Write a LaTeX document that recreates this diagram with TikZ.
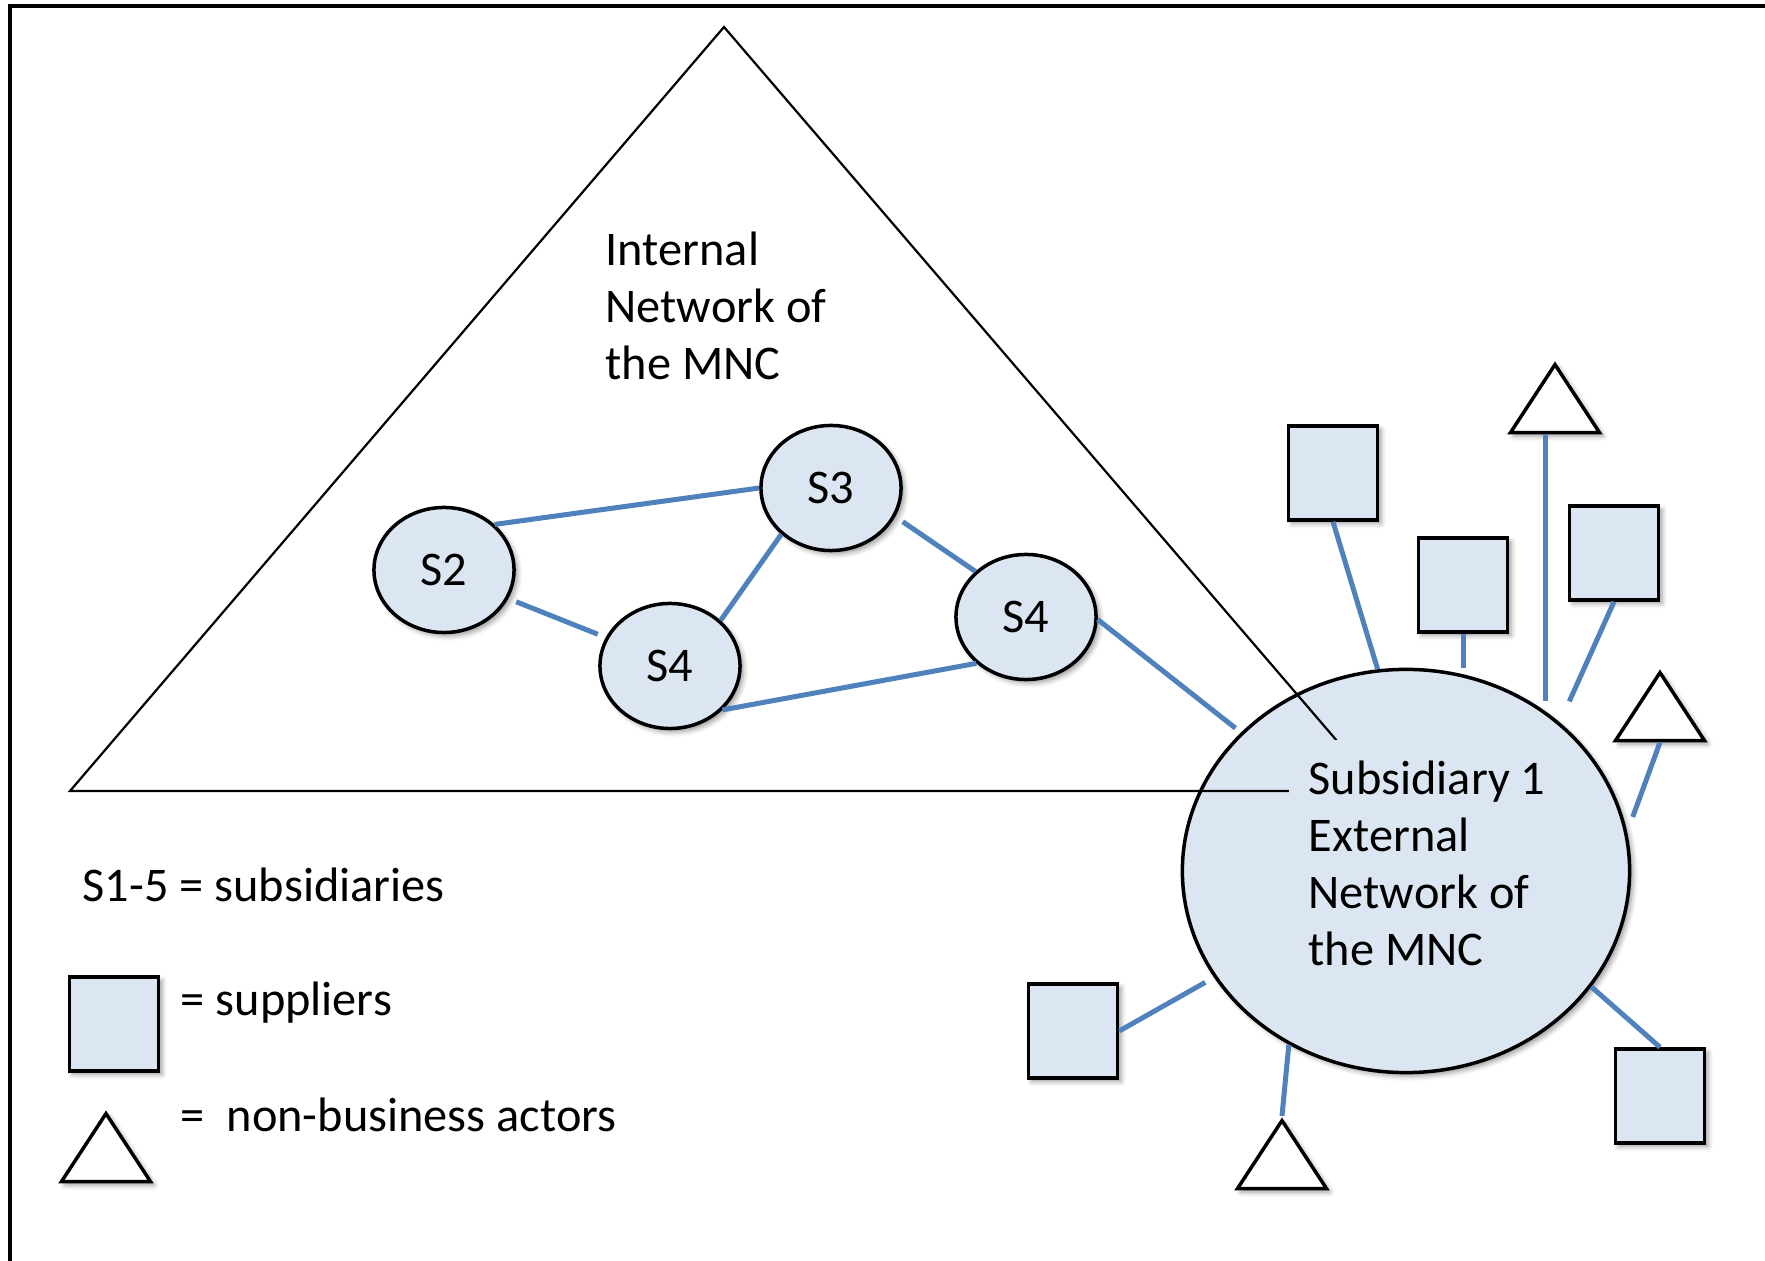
\documentclass[tikz,border=0pt]{standalone}
\usepackage{fontspec}
\setmainfont{Carlito}
\usepackage{tikz}
\usetikzlibrary{calc, shapes.geometric, shadows.blur}
\definecolor{sblue}{HTML}{DCE6F2}
\definecolor{slink}{HTML}{4F81BD}

\begin{document}
\begin{tikzpicture}[x=0.01cm, y=-0.01cm,
    font=\fontsize{13.75}{16.3}\selectfont,
    SHD/.style={blur shadow={shadow xshift=0.035cm, shadow yshift=-0.035cm, shadow blur radius=0.05cm, shadow opacity=40}},
    SUB/.style={ellipse, draw=black, fill=sblue, line width=0.035cm, inner sep=0pt, minimum width=1.40cm, minimum height=1.25cm, SHD},
    SUP/.style={rectangle, draw=black, fill=sblue, line width=0.035cm, inner sep=0pt, minimum width=0.89cm, minimum height=0.94cm, SHD},
    NBA/.style={isosceles triangle, isosceles triangle stretches, shape border rotate=90, draw=black, fill=white, line width=0.035cm, inner sep=0pt, minimum width=0.89cm, minimum height=0.68cm, anchor=apex, SHD},
    LNK/.style={draw=slink, line width=0.05cm},
    TXT/.style={inner sep=0pt, anchor=base west, align=left}
    ]
        \useasboundingbox (0,0) rectangle (1765,1261);
        \draw[line width=0.035cm] (10,6) rectangle (1800,1264);
        \node[SUB, minimum width=4.47cm, minimum height=4.03cm] (S1) at (1406,871) {};
        \draw[line width=0.022cm] (724,27) -- (70,791) -- (1380,791) -- cycle;
        \node[TXT, fill=sblue, inner sep=0.2cm] (S1t) at (1288,966) {Subsidiary 1\\External\\Network of\\the MNC};
        \node[TXT] (INT) at (605,380) {Internal\\Network of\\the MNC};
        \node[SUB] (S2) at (444,570) {S2};
        \node[SUB] (S3) at (831,488) {S3};
        \node[SUB] (S4a) at (670,666) {S4};
        \node[SUB] (S4b) at (1026,617) {S4};
        \node[SUP] (P1) at (1333,473) {};
        \node[SUP] (P2) at (1463,585) {};
        \node[SUP] (P3) at (1614,553) {};
        \node[SUP] (P4) at (1660,1096) {};
        \node[SUP] (P5) at (1073,1031) {};
        \node[NBA] (A1) at (1555,360) {};
        \node[NBA] (A2) at (1660,668) {};
        \node[NBA] (A3) at (1282,1116) {};
        \draw[LNK] (S2.42) -- (S3.180);
        \draw[LNK, shorten <=0.085cm, shorten >=0.085cm] (S2.-24) -- (S4a.156);
        \draw[LNK] (S3.-137) -- (S4a.42);
        \draw[LNK, shorten <=0.09cm] (S3.-24) -- (S4b.138);
        \draw[LNK] (S4a.-40) -- (S4b.-137);
        \draw[LNK, shorten >=0.07cm] (S4b.-2) -- (S1.140);
        \draw[LNK] (P1.south) -- (S1.98);
        \draw[LNK] (P2.south) -- (P2.south |- S1.north);
        \draw[LNK, shorten <=0.1cm] (S1.49) -- (S1.49 |- A1.south);
        \draw[LNK, shorten >=0.23cm] (P3.south) -- (S1.44);
        \draw[LNK, shorten >=0.16cm] (A2.south) -- (S1.10);
        \draw[LNK] (P4.north) -- (S1.-32);
        \draw[LNK] (A3.apex) -- (S1.-124);
        \draw[LNK, shorten >=0.1cm] (P5.east) -- (S1.-151);
        \node[TXT] (L1) at (82,902) {S1-5 = subsidiaries};
        \node[SUP] (P0) at (114,1024) {};
        \node[TXT] (L2) at (180,1016) {= suppliers};
        \node[NBA] (A0) at (106,1109) {};
        \node[TXT] (L3) at (180,1132) {= \ non-business actors};
\end{tikzpicture}
\end{document}
